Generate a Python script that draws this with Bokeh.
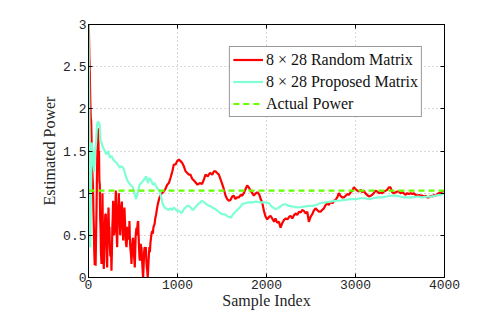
from bokeh.plotting import figure
from bokeh.models import Legend, LegendItem, LinearAxis, FixedTicker, Range1d, CustomJSTickFormatter
from bokeh.embed import file_html
from bokeh.resources import INLINE

# ---- data ----
red_x = [0, 5, 10, 15, 20, 25, 30, 35, 40, 45, 50, 55, 60, 65, 70, 75, 80, 85, 90, 95,
         100, 105, 110, 114, 118, 122, 127, 131, 135, 140, 146, 150, 154, 157, 162, 167, 172, 177, 183, 189,
         195, 200, 205, 210, 215, 220, 225, 230, 235, 240, 246, 252, 258, 263, 268, 272, 277, 282, 287, 292,
         296, 301, 307, 312, 317, 322, 327, 332, 337, 341, 346, 351, 356, 360, 365, 370, 375, 380, 385, 390,
         395, 400, 404, 408, 413, 418, 422, 427, 432, 437, 441, 446, 451, 456, 460, 465, 470, 475, 479, 483,
         488, 493, 497, 502, 507, 512, 516, 520, 525, 530, 535, 539, 544, 549, 553, 558, 563, 568, 572, 577,
         582, 587, 591, 595, 600, 605, 610, 614, 620, 625, 630, 634, 639, 644, 650, 655, 660, 665, 670, 675,
         680, 685, 690, 695, 700, 708, 715, 723, 730, 742, 750, 760, 770, 779,
         798, 817, 846, 865, 884, 903,
         921, 940, 959, 978, 996, 1015, 1034, 1052, 1071, 1090, 1110, 1127, 1146, 1165, 1184, 1202,
         1225, 1250, 1277, 1296, 1315, 1340, 1365, 1390, 1410, 1427, 1445, 1465, 1485, 1502, 1520,
         1540, 1558, 1577, 1595, 1615, 1633, 1650, 1670, 1690, 1710, 1727, 1745, 1765, 1783, 1800,
         1821, 1840, 1858, 1880, 1900, 1920, 1935, 1952, 1971, 1990, 2008, 2030, 2046, 2064, 2085,
         2100, 2120, 2140, 2158, 2175, 2195, 2215, 2235, 2255, 2270, 2290, 2310, 2330, 2345, 2365,
         2385, 2401, 2420, 2440, 2458, 2476, 2495, 2514, 2530, 2551, 2570, 2590, 2607, 2625, 2645,
         2665, 2682, 2700, 2720, 2740, 2760, 2776, 2795, 2813, 2830, 2850, 2870, 2890, 2910, 2926,
         2945, 2965, 2982, 3000, 3020, 3038, 3060, 3075, 3094, 3110, 3130, 3150, 3170, 3187, 3205,
         3225, 3244, 3265, 3282, 3300, 3320, 3340, 3357, 3375, 3393, 3413, 3431, 3450, 3470, 3487,
         3505, 3525, 3543, 3560, 3580, 3600, 3620, 3640, 3656, 3675, 3695, 3712, 3730, 3750, 3768,
         3790, 3805, 3825, 3845, 3865, 3880, 3900, 3920, 3936, 3955, 3975, 3992, 4000]
red_y = [3.0, 2.9, 2.6, 2.4, 2.1, 1.9, 1.85, 1.6, 1.5, 1.2, 1.1, 0.8, 0.6, 0.3, 0.15, 0.4, 0.14, 0.5, 0.8, 1.2,
         1.5, 1.7, 1.77, 1.4, 1.5, 1.15, 1.1, 0.7, 0.6, 0.3, 0.16, 0.5, 0.7, 1.0, 0.5, 0.25, 0.1, 0.5, 0.6, 0.75,
         0.75, 0.4, 0.2, 0.12, 0.5, 0.65, 0.83, 0.55, 0.6, 0.36, 0.25, 0.4, 0.08, 0.3, 0.6, 0.7, 0.91, 0.7, 0.5, 0.55,
         0.55, 0.8, 1.03, 0.7, 0.5, 0.36, 0.6, 0.8, 0.9, 1.0, 0.8, 0.7, 0.5, 0.63, 0.75, 0.85, 0.9, 0.7, 0.55, 0.44,
         0.6, 0.75, 0.83, 0.71, 0.6, 0.45, 0.4, 0.36, 0.45, 0.6, 0.55, 0.55, 0.45, 0.5, 0.67, 0.47, 0.35, 0.3, 0.25, 0.16,
         0.3, 0.4, 0.45, 0.47, 0.35, 0.25, 0.2, 0.12, 0.3, 0.5, 0.55, 0.59, 0.5, 0.6, 0.65, 0.67, 0.5, 0.35, 0.25, 0.2,
         0.3, 0.4, 0.35, 0.36, 0.25, 0.15, 0.05, 0.0, 0.15, 0.3, 0.35, 0.36, 0.3, 0.36, 0.2, 0.12, 0.08, 0.0, 0.08, 0.2,
         0.3, 0.36, 0.3, 0.4, 0.45, 0.52, 0.55, 0.52, 0.6, 0.63, 0.7, 0.75, 0.82, 0.87,
         0.95, 0.99, 1.02, 1.05, 1.1, 1.12,
         1.18, 1.25, 1.34, 1.34, 1.38, 1.4, 1.38, 1.36, 1.32, 1.26, 1.24, 1.22, 1.22, 1.17, 1.15, 1.13,
         1.1, 1.12, 1.11, 1.16, 1.22, 1.2, 1.24, 1.22, 1.26, 1.26, 1.24, 1.22, 1.16, 1.11, 1.05,
         0.97, 0.93, 0.91, 0.92, 0.96, 0.97, 0.93, 0.95, 0.95, 0.98, 0.97, 1.0, 1.05, 1.09, 1.07,
         1.03, 1.0, 0.97, 1.0, 1.01, 0.98, 0.93, 0.89, 0.79, 0.72, 0.69, 0.72, 0.73, 0.7, 0.66,
         0.7, 0.65, 0.66, 0.59, 0.64, 0.68, 0.7, 0.69, 0.72, 0.73, 0.7, 0.74, 0.76, 0.74, 0.78,
         0.77, 0.8, 0.79, 0.76, 0.78, 0.66, 0.72, 0.75, 0.79, 0.82, 0.8, 0.78, 0.78, 0.8, 0.82,
         0.86, 0.88, 0.86, 0.9, 0.88, 0.91, 0.92, 0.95, 1.0, 0.97, 0.95, 0.95, 0.97, 0.99, 0.98,
         1.01, 1.03, 1.07, 1.05, 1.03, 1.02, 1.04, 1.01, 1.03, 1.0, 0.98, 0.96, 0.97, 0.98, 1.0,
         1.03, 1.02, 1.0, 1.01, 1.0, 1.02, 1.03, 1.04, 1.07, 1.07, 1.01, 1.0, 1.01, 1.02, 1.02,
         1.0, 1.01, 1.0, 0.98, 1.0, 0.99, 1.0, 0.99, 1.0, 0.98, 0.97, 0.98, 0.97, 0.97, 0.96,
         0.97, 0.95, 0.95, 0.97, 0.96, 0.98, 0.97, 0.99, 1.0, 1.0, 1.02, 1.02, 1.03]

cyan_x = [0, 5, 10, 15, 20, 25, 35, 45, 55, 65, 75, 85, 97, 110, 127, 135, 146, 160, 183, 200,
          221, 240, 260, 277, 295, 315, 335, 352, 370, 390, 404, 419, 442, 470, 498, 515, 535, 553,
          573, 592, 610, 630, 648, 667, 685, 705, 723, 742, 760, 779, 798, 817, 835, 855, 884, 903,
          921, 940, 959, 978, 996, 1015, 1034, 1052, 1071, 1090, 1109, 1127, 1150, 1170, 1184, 1205,
          1230, 1255, 1277, 1300, 1325, 1352, 1380, 1405, 1427, 1450, 1475, 1502, 1530, 1555, 1577,
          1600, 1625, 1652, 1680, 1708, 1727, 1760, 1802, 1840, 1877, 1933, 1989, 2027, 2060, 2101,
          2140, 2180, 2213, 2250, 2300, 2363, 2420, 2480, 2513, 2560, 2600, 2663, 2720, 2780, 2813,
          2880, 2940, 2963, 3000, 3056, 3100, 3150, 3200, 3250, 3300, 3350, 3400, 3450, 3500, 3550,
          3600, 3650, 3700, 3750, 3800, 3850, 3900, 3950, 4000]
cyan_y = [3.0, 2.4, 1.9, 1.2, 0.36, 0.8, 1.6, 1.5, 1.35, 1.25, 1.5, 1.6, 1.82, 1.85, 1.8, 1.62, 1.6, 1.55, 1.5, 1.46,
          1.5, 1.42, 1.44, 1.4, 1.38, 1.36, 1.33, 1.3, 1.32, 1.3, 1.26, 1.2, 1.14, 1.1, 1.07, 1.0, 0.93, 1.0,
          1.1, 1.12, 1.14, 1.17, 1.2, 1.12, 1.18, 1.15, 1.1, 1.12, 1.08, 1.05, 1.03, 0.95, 0.87, 0.83, 0.81, 0.8,
          0.82, 0.8, 0.83, 0.81, 0.79, 0.79, 0.77, 0.77, 0.81, 0.83, 0.85, 0.85, 0.83, 0.8, 0.81, 0.84,
          0.87, 0.89, 0.91, 0.89, 0.87, 0.85, 0.84, 0.82, 0.81, 0.79, 0.77, 0.75, 0.75, 0.73, 0.72,
          0.71, 0.75, 0.78, 0.81, 0.84, 0.87, 0.88, 0.89, 0.89, 0.9, 0.89, 0.89, 0.88, 0.84, 0.81,
          0.83, 0.86, 0.87, 0.85, 0.84, 0.83, 0.84, 0.85, 0.85, 0.86, 0.88, 0.89, 0.9, 0.91, 0.91,
          0.92, 0.93, 0.93, 0.93, 0.94, 0.94, 0.93, 0.94, 0.95, 0.95, 0.96, 0.97, 0.97, 0.96, 0.95,
          0.95, 0.95, 0.96, 0.95, 0.96, 0.96, 0.97, 0.98, 1.0]

actual_x = [0, 4000]
actual_y = [1.03, 1.03]

x_ticks = [0, 1000, 2000, 3000, 4000]
y_ticks = [0, 0.5, 1, 1.5, 2, 2.5, 3]
y_tick_labels = {0: "0", 0.5: "0.5", 1: "1", 1.5: "1.5", 2: "2", 2.5: "2.5", 3: "3"}

labels = ["8 \u00d7 28 Random Matrix", "8 \u00d7 28 Proposed Matrix", "Actual Power"]

# ---- figure ----
p = figure(width=490, height=311, output_backend="svg", toolbar_location=None,
           x_range=Range1d(0, 4000), y_range=Range1d(0, 3),
           min_border_left=88, min_border_right=46, min_border_top=24, min_border_bottom=34,
           x_axis_label="Sample Index", y_axis_label="Estimated Power")
p.background_fill_color = "white"
p.border_fill_color = "white"
p.outline_line_color = "black"
p.outline_line_width = 1

tick_font = "Liberation Mono"
lab_font = "Liberation Serif"

for ax in (p.xaxis[0], p.yaxis[0]):
    ax.major_label_text_font = tick_font
    ax.major_label_text_font_size = "13px"
    ax.major_label_text_color = "#262626"
    ax.axis_label_text_font = lab_font
    ax.axis_label_text_font_size = "16px"
    ax.axis_label_text_font_style = "normal"
    ax.axis_label_text_color = "#262626"
    ax.axis_line_color = "black"
    ax.major_tick_line_color = "black"
    ax.major_tick_in = 4
    ax.major_tick_out = 0
    ax.minor_tick_line_color = None

p.xaxis[0].ticker = FixedTicker(ticks=x_ticks)
p.yaxis[0].ticker = FixedTicker(ticks=y_ticks)
p.yaxis[0].major_label_overrides = y_tick_labels
p.xaxis[0].major_label_standoff = 2
p.xaxis[0].axis_label_standoff = 0
p.yaxis[0].major_label_standoff = 2
p.yaxis[0].axis_label_standoff = 2

# box ticks on top and right (no labels)
top_ax = LinearAxis(ticker=FixedTicker(ticks=x_ticks), formatter=CustomJSTickFormatter(code="return ''"),
                    major_tick_in=4, major_tick_out=0, minor_tick_line_color=None,
                    axis_line_color="black", major_label_standoff=0)
right_ax = LinearAxis(ticker=FixedTicker(ticks=y_ticks), formatter=CustomJSTickFormatter(code="return ''"),
                      major_tick_in=4, major_tick_out=0, minor_tick_line_color=None,
                      axis_line_color="black", major_label_standoff=0)
p.add_layout(top_ax, "above")
p.add_layout(right_ax, "right")

for g in (p.xgrid[0], p.ygrid[0]):
    g.grid_line_color = "#b0b0b0"
    g.grid_line_dash = "1 3"
    g.grid_line_width = 1
p.xgrid[0].ticker = FixedTicker(ticks=x_ticks)
p.ygrid[0].ticker = FixedTicker(ticks=y_ticks)

r_red = p.line(red_x, red_y, line_color="#ff0000", line_width=2.2)
r_cyan = p.line(cyan_x, cyan_y, line_color="#7fffd4", line_width=2.2)
r_green = p.line(actual_x, actual_y, line_color="#66ff00", line_width=2.2, line_dash="6 4")

legend = Legend(items=[LegendItem(label=labels[0], renderers=[r_red]),
                       LegendItem(label=labels[1], renderers=[r_cyan]),
                       LegendItem(label=labels[2], renderers=[r_green])],
                location="top_right")
legend.margin = 22
legend.padding = 3
legend.spacing = 3
legend.label_height = 19
legend.glyph_height = 19
legend.glyph_width = 30
legend.label_standoff = 3
legend.label_text_font = lab_font
legend.label_text_font_size = "16px"
legend.label_text_color = "#111111"
legend.border_line_color = "#333333"
legend.border_line_width = 1.5
legend.background_fill_color = "white"
legend.background_fill_alpha = 1
p.add_layout(legend, "center")

open("out.html", "w").write(file_html(p, INLINE))
